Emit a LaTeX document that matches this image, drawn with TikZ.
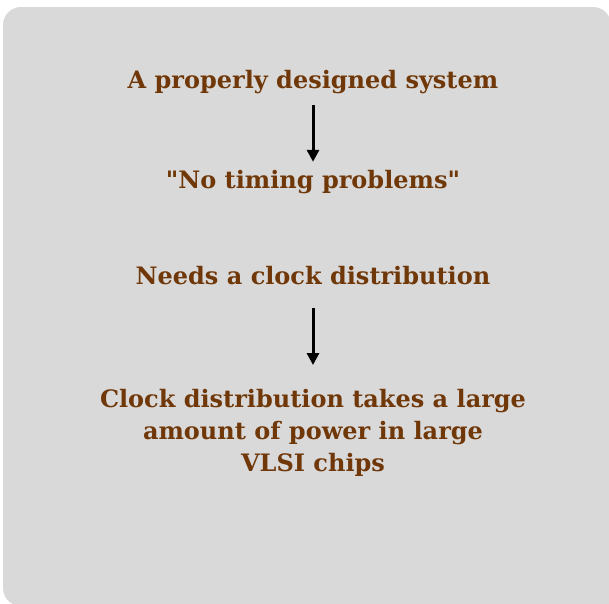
\documentclass[tikz,border=0pt]{standalone}
\usepackage{fontspec}
\setmainfont{DejaVu Serif}[Ligatures=TeXOff]
\usetikzlibrary{arrows.meta}
\definecolor{panelgray}{RGB}{217,217,217}
\definecolor{textbrown}{RGB}{112,56,8}

\begin{document}
\begin{tikzpicture}[x=1pt,y=-1pt,
    stmt/.style={font=\fontsize{24}{32}\selectfont\bfseries, text=textbrown, inner sep=0pt},
    oneline/.style={stmt, text height=20pt, text depth=6pt},
    flow/.style={-{Triangle[width=12pt,length=12pt]}, line width=3pt}]
    \useasboundingbox (0,0) rectangle (609,603);
    \clip (0,0) rectangle (609,603);
    % panel, bottom right corner cut off square
    \fill[panelgray, rounded corners=18pt] (3,7) rectangle (611,606);
    \fill[panelgray] (560,500) rectangle (615,610);

    \node[oneline, anchor=base] (sys) at (313,88) {A properly designed system};
    \node[oneline, anchor=base] (notiming) at (313,188) {"No timing problems"};
    \node[oneline, anchor=base] (needs) at (313,284) {Needs a clock distribution};
    \node[stmt, align=center, anchor=north] (power) at (313,389)
        {Clock distribution takes a large\\amount of power in large\\VLSI chips};

    \draw[flow, shorten <=11pt, shorten >=6pt] (sys) -- (notiming);
    \draw[flow, shorten <=18pt, shorten >=24pt] (needs) -- (power);
\end{tikzpicture}
\end{document}
